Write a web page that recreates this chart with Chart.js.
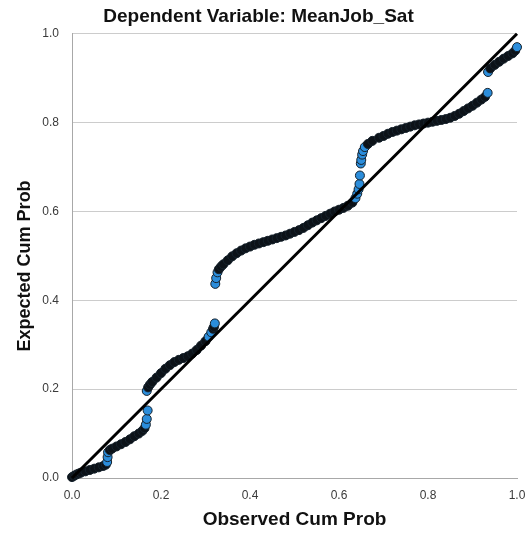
<!DOCTYPE html>
<html>
<head>
<meta charset="utf-8">
<script src="https://cdn.jsdelivr.net/npm/chart.js@4"></script>
<style>
  body { margin: 0; background: #fff; }
</style>
</head>
<body>
<canvas id="ppChart" width="529" height="541"></canvas>
<script>
// P-P plot of regression standardized residual
const obsCum = [
  0.000, 0.005, 0.010, 0.015, 0.020, 0.030, 0.040, 0.050, 0.060, 0.070, 0.076,
  0.079, 0.080,
  0.081, 0.085, 0.090, 0.100, 0.110, 0.120, 0.130, 0.140, 0.150, 0.158, 0.163, 0.166,
  0.168, 0.170,
  0.168, 0.171,
  0.175, 0.180, 0.190, 0.200, 0.210, 0.220, 0.230, 0.240, 0.250, 0.260, 0.270, 0.280,
  0.290, 0.300, 0.307, 0.313, 0.317, 0.319,
  0.321,
  0.322, 0.324,
  0.327, 0.330, 0.335, 0.340, 0.350, 0.360, 0.370, 0.380, 0.390, 0.400, 0.410, 0.420,
  0.430, 0.440, 0.450, 0.460, 0.470, 0.480, 0.490, 0.500, 0.510, 0.520, 0.530, 0.540,
  0.550, 0.560, 0.570, 0.580, 0.590, 0.600, 0.610, 0.620, 0.630, 0.637, 0.641, 0.644,
  0.646, 0.647, 0.649, 0.650, 0.652,
  0.654, 0.658, 0.665, 0.675, 0.690, 0.700, 0.710, 0.720, 0.730, 0.740, 0.750, 0.760,
  0.770, 0.780, 0.790, 0.800, 0.810, 0.820, 0.830, 0.840, 0.850, 0.860, 0.870, 0.880,
  0.890, 0.900, 0.910, 0.920, 0.928,
  0.934,
  0.935,
  0.940, 0.950, 0.960, 0.970, 0.980, 0.990, 0.996,
  1.000
];
const expCum = [
  0.002, 0.005, 0.008, 0.010, 0.012, 0.015, 0.018, 0.021, 0.024, 0.027, 0.030,
  0.036, 0.047,
  0.058, 0.063, 0.066, 0.071, 0.076, 0.081, 0.087, 0.094, 0.100, 0.106, 0.112, 0.120,
  0.133, 0.152,
  0.196, 0.204,
  0.210, 0.216, 0.226, 0.236, 0.246, 0.254, 0.261, 0.266, 0.270, 0.274, 0.280, 0.288,
  0.298, 0.308, 0.318, 0.328, 0.336, 0.340,
  0.348,
  0.437, 0.450,
  0.463, 0.470, 0.476, 0.481, 0.490, 0.499, 0.506, 0.512, 0.517, 0.521, 0.525, 0.528,
  0.531, 0.534, 0.537, 0.540, 0.543, 0.546, 0.550, 0.554, 0.558, 0.563, 0.569, 0.575,
  0.580, 0.585, 0.590, 0.595, 0.600, 0.604, 0.608, 0.613, 0.620, 0.630, 0.640, 0.650,
  0.662, 0.681, 0.708, 0.716, 0.728,
  0.736, 0.745, 0.752, 0.759, 0.766, 0.770, 0.775, 0.779, 0.782, 0.785, 0.788, 0.791,
  0.794, 0.796, 0.798, 0.800, 0.802, 0.804, 0.806, 0.808, 0.811, 0.815, 0.820, 0.826,
  0.832, 0.838, 0.845, 0.852, 0.858,
  0.867,
  0.914,
  0.922, 0.930, 0.937, 0.944, 0.950, 0.956, 0.962,
  0.970
];
const tickLabels = ["0.0", "0.2", "0.4", "0.6", "0.8", "1.0"];
const diagonal = [0, 1];

const points = obsCum.map((x, i) => ({ x: x, y: expCum[i] }));

const FONT = "'Liberation Sans', Arial, sans-serif";
const DARK = "#0c1218";
const BLUE = "#2b8ddb";

// a point shows blue where the curve jumps upward (sparse vertical runs),
// inside the dense band the markers merge into a dark line
function steepStep(a, b) {
  if (!a || !b) return false;
  const dx = Math.abs(b.x - a.x), dy = Math.abs(b.y - a.y);
  return dy > 0.009 && dy > 1.5 * dx;
}
function isLoose(i) {
  if (i === points.length - 1) return true;
  return steepStep(points[i - 1], points[i]) || steepStep(points[i], points[i + 1]);
}

new Chart(document.getElementById("ppChart"), {
  type: 'scatter',
  data: {
    datasets: [{
      data: diagonal.map(v => ({ x: v, y: v })),
      showLine: true,
      borderColor: "#000",
      borderWidth: 3,
      pointRadius: 0,
      clip: false
    }, {
      data: points,
      showLine: true,
      borderWidth: 8,
      borderColor: DARK,
      borderCapStyle: 'round',
      borderJoinStyle: 'round',
      segment: {
        borderColor: ctx => {
          const dx = ctx.p1.x - ctx.p0.x, dy = ctx.p1.y - ctx.p0.y;
          return Math.sqrt(dx * dx + dy * dy) > 7 ? 'rgba(0,0,0,0)' : DARK;
        }
      },
      pointRadius: 4.5,
      pointBorderWidth: 1,
      pointBorderColor: "#16222c",
      pointBackgroundColor: ctx => isLoose(ctx.dataIndex) ? BLUE : DARK,
      clip: false
    }]
  },
  options: {
    responsive: false,
    animation: false,
    layout: { padding: { right: 12 } },
    plugins: {
      legend: { display: false },
      tooltip: { enabled: false },
      title: {
        display: true,
        text: "Dependent Variable: MeanJob_Sat",
        color: "#111",
        font: { family: FONT, size: 19, weight: 'bold' },
        padding: { top: 5, bottom: 6 }
      }
    },
    scales: {
      x: {
        type: 'linear',
        min: 0,
        max: 1,
        afterFit: s => { s.height = 63; s.paddingRight = 0; s.paddingLeft = 0; },
        grid: { display: false, drawTicks: false },
        border: { display: true, color: "#a8a8a8", width: 1 },
        ticks: {
          stepSize: 0.2,
          padding: 10,
          color: "#3a3a3a",
          font: { family: FONT, size: 12 },
          callback: (v, i) => tickLabels[i]
        },
        title: {
          display: true,
          text: "Observed Cum Prob",
          color: "#111",
          font: { family: FONT, size: 19, weight: 'bold' },
          padding: { top: 0, bottom: 10 }
        }
      },
      y: {
        type: 'linear',
        min: 0,
        max: 1,
        afterFit: s => { s.width = 72; },
        grid: { color: "#cccccc", lineWidth: 1, drawTicks: false },
        border: { display: true, color: "#a8a8a8", width: 1 },
        ticks: {
          stepSize: 0.2,
          padding: 13,
          color: "#3a3a3a",
          font: { family: FONT, size: 12 },
          callback: (v, i) => tickLabels[i]
        },
        title: {
          display: true,
          text: "Expected Cum Prob    ",
          color: "#111",
          font: { family: FONT, size: 18, weight: 'bold' },
          padding: { top: 14, bottom: 0 }
        }
      }
    }
  }
});
</script>
</body>
</html>
